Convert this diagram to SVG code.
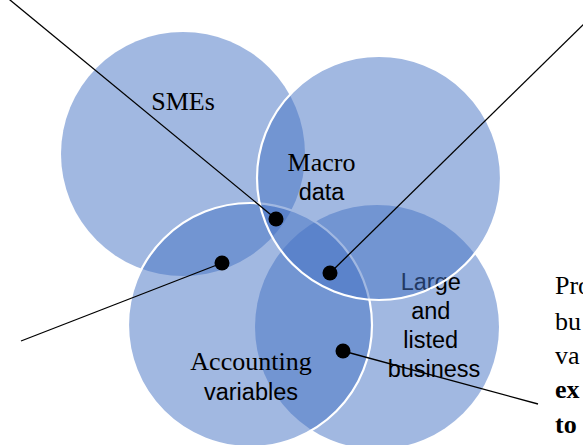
<svg xmlns="http://www.w3.org/2000/svg" width="583" height="445" viewBox="0 0 583 445">
  <style>
    .set { fill: #4472C4; fill-opacity: 0.5; }
    .rim { stroke: #FFFFFF; stroke-width: 2.2; }
    .serif { font-family: "Liberation Serif", "Times New Roman", serif; font-size: 26px; fill: #000; }
    .sans { font-family: "Liberation Sans", Arial, sans-serif; font-size: 23.5px; fill: #000; }
    .note { font-family: "Liberation Serif", "Times New Roman", serif; font-size: 26px; fill: #000; }
    .bold { font-weight: bold; }
    .lead { stroke: #000; stroke-width: 1.3; fill: none; }
    .dot { fill: #000; }
  </style>

  <!-- Venn sets, painted in stacking order -->
  <g id="smes">
    <circle class="set" cx="183" cy="154" r="122"/>
    <text class="serif" x="183" y="110" text-anchor="middle">SMEs</text>
  </g>

  <g id="large-listed">
    <circle class="set" cx="377" cy="327" r="122"/>
    <text class="sans" text-anchor="middle">
      <tspan x="434" y="290">Large</tspan>
      <tspan x="434" y="319">and</tspan>
      <tspan x="434" y="348">listed</tspan>
      <tspan x="434" y="377">business</tspan>
    </text>
  </g>

  <g id="accounting">
    <circle class="set rim" cx="250" cy="325" r="122"/>
    <text class="serif" x="251" y="370" text-anchor="middle">Accounting</text>
    <text class="sans" x="251" y="400" text-anchor="middle">variables</text>
  </g>

  <g id="macro">
    <circle class="set rim" cx="379" cy="178" r="122"/>
    <text class="serif" x="321.5" y="171" text-anchor="middle">Macro</text>
    <text class="sans" x="321.5" y="200" text-anchor="middle">data</text>
  </g>

  <!-- callout leaders -->
  <g id="connectors">
    <line class="lead" x1="8.8" y1="-1" x2="276" y2="219"/>
    <circle class="dot" cx="276" cy="219" r="7.5"/>
    <line class="lead" x1="590" y1="18" x2="330" y2="273"/>
    <circle class="dot" cx="330" cy="273" r="7.5"/>
    <line class="lead" x1="21" y1="341" x2="222" y2="263"/>
    <circle class="dot" cx="222" cy="263" r="7.5"/>
    <line class="lead" x1="343" y1="351" x2="538" y2="404"/>
    <circle class="dot" cx="343" cy="351" r="7.5"/>
  </g>

  <!-- running text beside the figure -->
  <g id="side-text">
    <text class="note" x="555" y="294">Pro</text>
    <text class="note" x="555" y="330">bu</text>
    <text class="note" x="555" y="364">va</text>
    <text class="note bold" x="555" y="398">ex</text>
    <text class="note bold" x="555" y="433">to</text>
  </g>
</svg>
